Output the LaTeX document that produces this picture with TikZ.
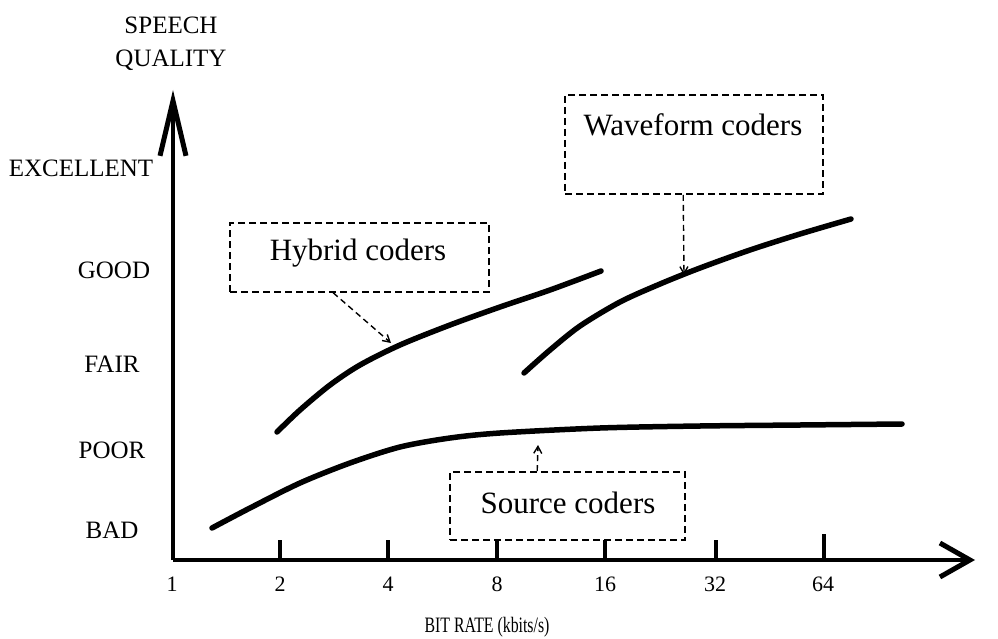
\documentclass[tikz,border=0pt]{standalone}
\usepackage{fontspec}
\setmainfont{Liberation Serif}
\usetikzlibrary{arrows.meta}
\tikzset{
  axis/.style={line width=4.5pt},
  curve/.style={line width=5.5pt, line cap=round, smooth},
  dbox/.style={draw, dashed, line width=1.6pt, dash pattern=on 7pt off 4pt, inner sep=0pt},
  ptr/.style={dashed, line width=1.4pt, dash pattern=on 6pt off 4pt, -{Straight Barb[length=7pt,width=8pt,line width=1.4pt]}},
  ylab/.style={font=\fontsize{25}{27}\selectfont},
  xlab/.style={font=\fontsize{22}{24}\selectfont},
  boxtxt/.style={font=\fontsize{31}{33}\selectfont},
  tick/.style={line width=4pt}
}
\begin{document}
\begin{tikzpicture}[x=1pt,y=-1pt]
\useasboundingbox (0,0) rectangle (998,639);
% axes
\coordinate (O) at (173,560);
\coordinate (Ytop) at (173,90);
\coordinate (Xend) at (975,560);
\draw[axis, -{Straight Barb[length=55pt,width=26pt,line width=5pt]}] (O) -- (Ytop);
\draw[axis, -{Straight Barb[length=30pt,width=34pt,line width=5pt]}] (O) -- (Xend);
% ticks
\foreach \x/\h in {280/20,388/20,497/20,605/20,716/20,824/26}{
  \draw[tick] (\x,560) -- (\x,560-\h);
}
% x labels
\foreach \x/\t in {172/1,280/2,388/4,497/8,605/16,715/32,823/64}{
  \node[xlab] (xl\t) at (\x,584) {\t};
}
\node[xlab] (xtitle) at (487,627) {\scalebox{0.72}[1]{BIT RATE (kbits/s)}};
% y labels
\node[ylab] (sp) at (171,25) {SPEECH};
\node[ylab] (qu) at (171,60) {QUALITY};
\node[ylab] (exc) at (81,168) {EXCELLENT};
\node[ylab] (good) at (114,270) {GOOD};
\node[ylab] (fair) at (112,364) {FAIR};
\node[ylab] (poor) at (112,450) {POOR};
\node[ylab] (bad) at (112,530) {BAD};
% curves
\draw[curve] plot coordinates {(212,528) (250,508) (300,483) (350,463) (400,447) (450,438) (500,433) (600,428) (700,426) (800,425) (902,424)};
\draw[curve] plot coordinates {(277,432) (300,410) (330,385) (360,365) (400,345) (450,325) (500,307) (550,290) (601,271)};
\draw[curve] plot coordinates {(524,373) (550,350) (580,326) (620,302) (660,284) (700,268) (750,250) (800,234) (851,219)};
% boxes
\node[dbox, minimum width=259pt, minimum height=69pt] (hbox) at (359.5,257.5) {};
\node[boxtxt] (htxt) at (358,253) {Hybrid coders};
\node[dbox, minimum width=258pt, minimum height=99pt] (wbox) at (694,144.5) {};
\node[boxtxt] (wtxt) at (693,125) {Waveform coders};
\node[dbox, minimum width=235pt, minimum height=68pt] (sbox) at (567.5,506) {};
\node[boxtxt] (stxt) at (568,503) {Source coders};
% pointers
\coordinate (hpt) at (391,343);
\coordinate (wpt) at (684,275);
\coordinate (spt) at (538,445);
\draw[ptr] (hbox.south west) ++(104,0) -- (hpt);
\draw[ptr] (wbox.south west) ++(119,0) -- (wpt);
\draw[ptr] (sbox.north west) ++(88,0) -- (spt);
\end{tikzpicture}
\end{document}
